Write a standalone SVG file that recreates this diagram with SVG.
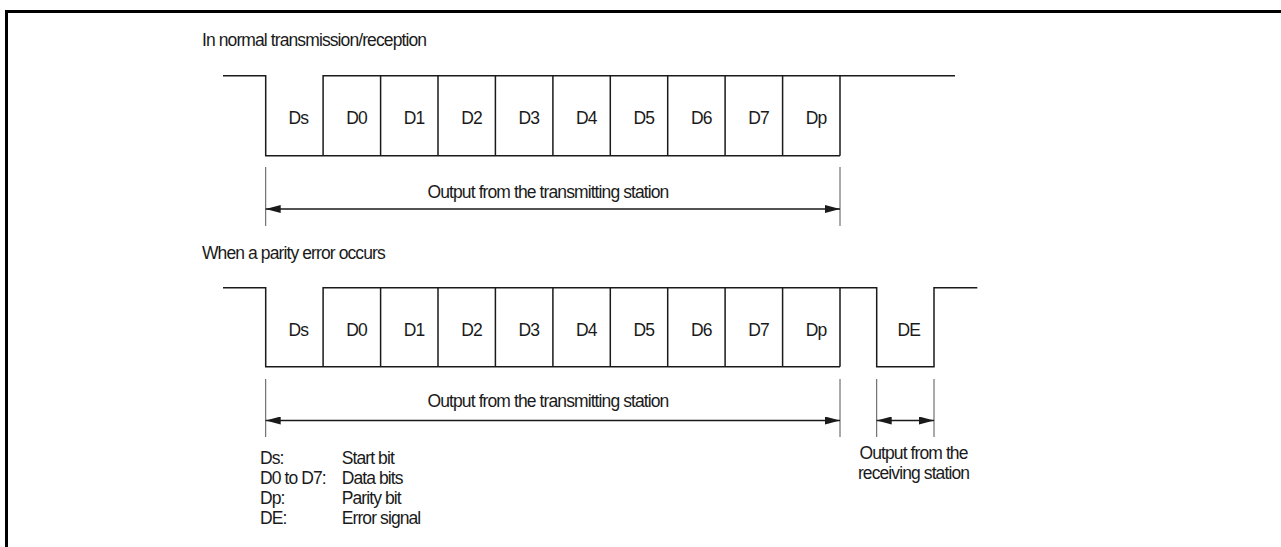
<svg xmlns="http://www.w3.org/2000/svg" width="1281" height="547" viewBox="0 0 1281 547">
<defs>
<style>
.t{font-family:"Liberation Sans",Arial,sans-serif;font-size:17.5px;letter-spacing:-0.9px;fill:#1a1a1a}
.c{text-anchor:middle}
.w{fill:none;stroke:#1a1a1a;stroke-width:1.5}
.x{stroke:#555;stroke-width:1;fill:none}
.a{stroke:#1a1a1a;stroke-width:1.5;fill:none;marker-start:url(#ah);marker-end:url(#ah)}
</style>
<marker id="ah" markerUnits="userSpaceOnUse" markerWidth="16" markerHeight="8" refX="15" refY="4" orient="auto-start-reverse">
<path d="M0,0 L15,4 L0,8 z" fill="#1a1a1a"/>
</marker>
</defs>
<rect width="1281" height="547" fill="#fff"/>
<path d="M6.5,547 V11.5 H1281" fill="none" stroke="#000" stroke-width="3"/>

<g id="title-normal"><text class="t" x="202" y="46">In normal transmission/reception</text></g>
<g id="title-parity"><text class="t" x="202" y="258.5">When a parity error occurs</text></g>

<g id="wave-normal">
<path class="w" d="M223,75.7 H265.7 V155.7 H840 M323.1,155.7 V75.7 H955 M380.6,75.7 V155.7 M438,75.7 V155.7 M495.4,75.7 V155.7 M552.9,75.7 V155.7 M610.3,75.7 V155.7 M667.7,75.7 V155.7 M725.1,75.7 V155.7 M782.6,75.7 V155.7 M840,75.7 V155.7"/>
<text class="t" x="288.5" y="124">Ds</text>
<text class="t" x="346.3" y="124">D0</text>
<text class="t" x="403.8" y="124">D1</text>
<text class="t" x="461.2" y="124">D2</text>
<text class="t" x="518.6" y="124">D3</text>
<text class="t" x="576.1" y="124">D4</text>
<text class="t" x="633.5" y="124">D5</text>
<text class="t" x="690.9" y="124">D6</text>
<text class="t" x="748.3" y="124">D7</text>
<text class="t" x="805.8" y="124">Dp</text>
</g>

<g id="wave-parity">
<path class="w" d="M223,287.7 H265.7 V366.7 H840 M323.1,366.7 V287.7 H876.7 V366.7 H934 V287.7 H977.3 M380.6,287.7 V366.7 M438,287.7 V366.7 M495.4,287.7 V366.7 M552.9,287.7 V366.7 M610.3,287.7 V366.7 M667.7,287.7 V366.7 M725.1,287.7 V366.7 M782.6,287.7 V366.7 M840,287.7 V366.7"/>
<text class="t" x="288.5" y="336">Ds</text>
<text class="t" x="346.3" y="336">D0</text>
<text class="t" x="403.8" y="336">D1</text>
<text class="t" x="461.2" y="336">D2</text>
<text class="t" x="518.6" y="336">D3</text>
<text class="t" x="576.1" y="336">D4</text>
<text class="t" x="633.5" y="336">D5</text>
<text class="t" x="690.9" y="336">D6</text>
<text class="t" x="748.3" y="336">D7</text>
<text class="t" x="805.8" y="336">Dp</text>
<text class="t" x="897.5" y="336">DE</text>
</g>

<g id="connectors">
<path class="x" d="M265.7,167 V226 M840,167 V226 M265.7,379 V437 M840,379 V437 M876.7,379 V437 M934,379 V437"/>
<path class="a" d="M265.7,209 H840"/>
<path class="a" d="M265.7,420.5 H840"/>
<path class="a" d="M876.7,420.5 H934"/>
</g>

<g id="label-tx-normal"><text class="t c" x="548" y="198">Output from the transmitting station</text></g>
<g id="label-tx-parity"><text class="t c" x="548" y="407">Output from the transmitting station</text></g>
<g id="label-rx"><text class="t c" x="913.5" y="459">Output from the</text><text class="t c" x="913.5" y="479">receiving station</text></g>

<g id="legend">
<text class="t" x="260" y="463.5">Ds:</text><text class="t" x="341.7" y="463.5">Start bit</text>
<text class="t" x="260" y="483.8">D0 to D7:</text><text class="t" x="341.7" y="483.8">Data bits</text>
<text class="t" x="260" y="504.1">Dp:</text><text class="t" x="341.7" y="504.1">Parity bit</text>
<text class="t" x="260" y="524.4">DE:</text><text class="t" x="341.7" y="524.4">Error signal</text>
</g>
</svg>
